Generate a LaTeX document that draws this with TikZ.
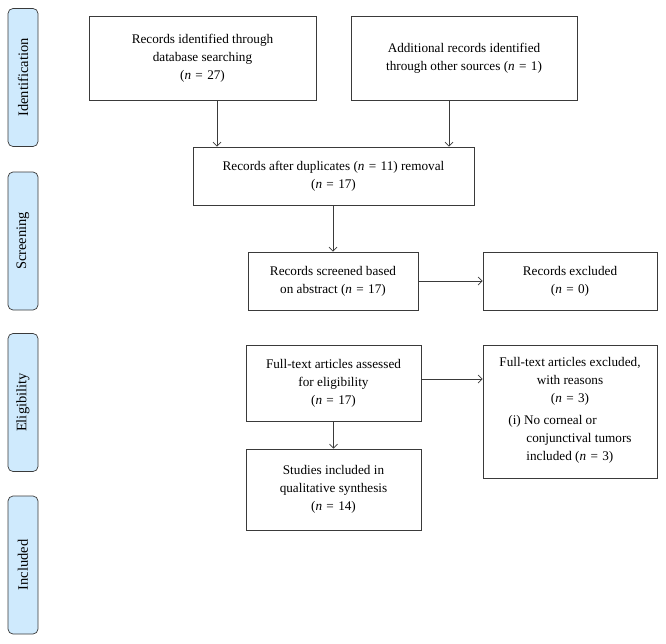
\documentclass[tikz,border=0pt]{standalone}
\usepackage{fontspec}
\setmainfont{Liberation Serif}
\usetikzlibrary{arrows.meta}
\definecolor{phasefill}{RGB}{207,234,253}
\definecolor{edge}{RGB}{58,58,58}
\newcommand{\ncount}[1]{(\textit{n}\hspace{0.33em}=\hspace{0.33em}#1)}
\begin{document}
\begin{tikzpicture}[
		x=1pt, y=-1pt,
		box/.style={draw=edge, line width=0.8pt, align=center, inner sep=2pt,
			font=\fontsize{13.2}{18}\selectfont},
		phase/.style={draw=edge, fill=phasefill, line width=0.7pt, rounded corners=5pt,
			rotate=90, minimum width=138pt, minimum height=30pt,
			font=\fontsize{14.5}{16}\selectfont},
		arr/.style={draw=edge, line width=0.7pt, -{Straight Barb[length=4pt,width=8pt]}}
	]
	\useasboundingbox (0,0) rectangle (666,643);

	% phases on the left
	\node[phase] (idf) at (23,77.5) {Identification};
	\node[phase] (scr) at (23,241) {Screening};
	\node[phase] (eli) at (23,402.5) {Eligibility};
	\node[phase] (inc) at (23,565) {Included};

	% flow boxes
	\node[box, minimum width=227pt, minimum height=84pt] (db) at (202.5,58)
		{Records identified through\\ database searching\\ \ncount{27}};
	\node[box, minimum width=226pt, minimum height=84pt] (other) at (464,58)
		{Additional records identified\\ through other sources \ncount{1}};
	\node[box, minimum width=281pt, minimum height=58pt] (dedup) at (333.5,176)
		{Records after duplicates \ncount{11} removal\\ \ncount{17}};
	\node[box, minimum width=170pt, minimum height=58pt] (screened) at (333,281)
		{Records screened based\\ on abstract \ncount{17}};
	\node[box, minimum width=174pt, minimum height=58pt] (excluded) at (570,281)
		{Records excluded\\ \ncount{0}};
	\node[box, minimum width=175pt, minimum height=76pt] (fulltext) at (333.5,383)
		{Full-text articles assessed\\ for eligibility\\ \ncount{17}};
	\node[box, minimum width=174pt, minimum height=133pt] (ftexcl) at (570,411.5)
		{Full-text articles excluded,\\ with reasons\\ \ncount{3}\\[5pt]
		\begin{tabular}{@{}l@{}}
			(i) No corneal or\\
			\hspace*{18pt}conjunctival tumors\\
			\hspace*{18pt}included \ncount{3}
		\end{tabular}};
	\node[box, minimum width=175pt, minimum height=81pt] (studies) at (333.5,489.5)
		{Studies included in\\ qualitative synthesis\\ \ncount{14}};

	% connectors
	\draw[arr] ([xshift=14.5pt]db.south) -- ([xshift=14.5pt]db.south |- dedup.north);
	\draw[arr] ([xshift=-15pt]other.south) -- ([xshift=-15pt]other.south |- dedup.north);
	\draw[arr] (dedup.south -| screened) -- (screened.north);
	\draw[arr] (screened.east) -- (excluded.west);
	\draw[arr] ([yshift=4pt]fulltext.east) -- ([yshift=4pt]fulltext.east -| ftexcl.west);
	\draw[arr] (fulltext.south) -- (studies.north);
\end{tikzpicture}
\end{document}
